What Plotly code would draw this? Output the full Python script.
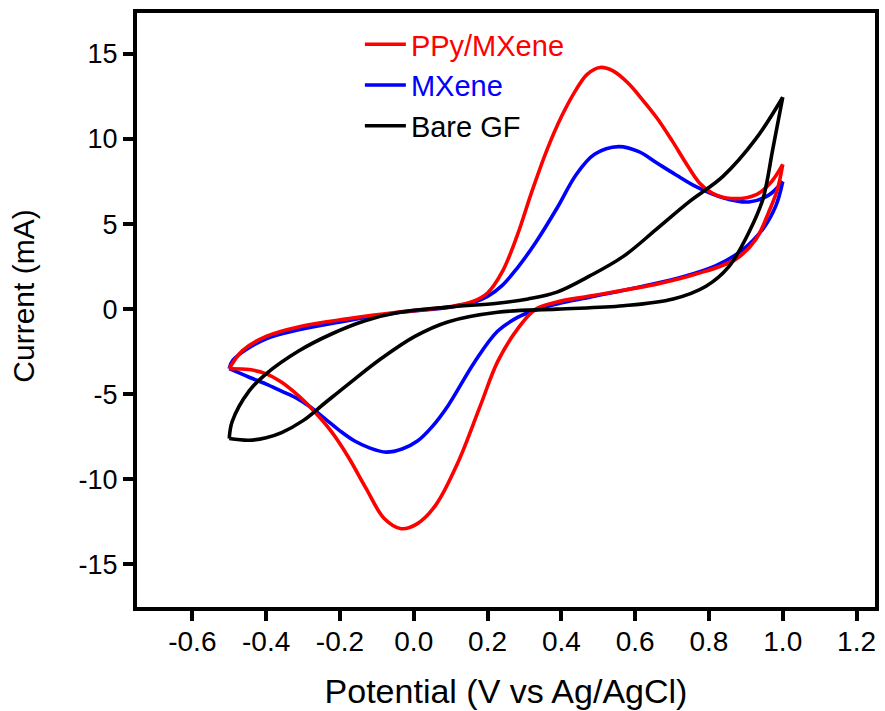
import plotly.graph_objects as go

# ---------------- data ----------------
# PPy/MXene
ppy_fwd_v = [-0.50, -0.465, -0.40, -0.31, -0.18, -0.04, 0.10, 0.16, 0.20, 0.24, 0.28, 0.32, 0.36, 0.40, 0.44,
             0.47, 0.505, 0.54, 0.58, 0.62, 0.66, 0.70, 0.74, 0.775, 0.81, 0.86, 0.93, 0.97, 1.00]
ppy_fwd_i = [-3.5, -2.45, -1.6, -1.03, -0.57, -0.17, 0.15, 0.45, 0.95, 2.2, 4.3, 6.9, 9.3, 11.3, 12.9,
             13.8, 14.2, 14.0, 13.3, 12.3, 11.2, 9.9, 8.5, 7.4, 6.8, 6.5, 6.75, 7.5, 8.5]
ppy_rev_v = [1.00, 0.985, 0.962, 0.927, 0.873, 0.765, 0.658, 0.477, 0.388, 0.33, 0.28, 0.227, 0.18, 0.12,
             0.06, 0.01, -0.034, -0.08, -0.13, -0.177, -0.223, -0.27, -0.312, -0.358, -0.40, -0.446, -0.50]
ppy_rev_i = [8.5, 7.0, 5.7, 4.1, 2.94, 2.06, 1.47, 0.77, 0.42, 0.0, -1.2, -3.1, -5.7, -9.0,
             -11.5, -12.6, -12.9, -12.3, -10.5, -8.7, -7.2, -6.0, -5.1, -4.3, -3.8, -3.55, -3.5]

# MXene
mx_fwd_v = [-0.50, -0.49, -0.40, -0.18, -0.04, 0.10, 0.16, 0.20, 0.24, 0.28, 0.33, 0.39, 0.44, 0.49, 0.555,
            0.61, 0.658, 0.71, 0.765, 0.838, 0.908, 0.962, 1.00]
mx_fwd_i = [-3.5, -3.0, -1.75, -0.68, -0.2, 0.12, 0.4, 0.75, 1.4, 2.4, 3.9, 6.0, 7.9, 9.1, 9.55,
            9.25, 8.6, 7.9, 7.2, 6.55, 6.3, 6.7, 7.5]
mx_rev_v = [1.00, 0.981, 0.946, 0.892, 0.819, 0.730, 0.612, 0.477, 0.388, 0.33, 0.28, 0.227, 0.165, 0.092,
            0.05, 0.01, -0.03, -0.075, -0.12, -0.16, -0.20, -0.24, -0.28, -0.32, -0.36, -0.40, -0.446, -0.50]
mx_rev_i = [7.5, 6.05, 4.7, 3.5, 2.55, 1.9, 1.3, 0.7, 0.3, -0.05, -0.5, -1.3, -3.1, -5.7,
            -6.9, -7.75, -8.2, -8.4, -8.15, -7.75, -7.15, -6.45, -5.75, -5.2, -4.8, -4.4, -4.0, -3.5]

# Bare GF
gf_fwd_v = [-0.50, -0.492, -0.446, -0.40, -0.312, -0.223, -0.132, -0.042, 0.092, 0.227, 0.31, 0.388, 0.477,
            0.568, 0.658, 0.746, 0.838, 0.927, 1.00]
gf_fwd_i = [-7.6, -6.6, -4.8, -3.8, -2.46, -1.46, -0.68, -0.2, 0.12, 0.35, 0.6, 1.0, 1.95,
            3.1, 4.7, 6.3, 7.8, 10.0, 12.45]
gf_rev_v = [1.00, 0.973, 0.946, 0.908, 0.854, 0.792, 0.703, 0.568, 0.388, 0.227, 0.092, 0.003, -0.088,
            -0.177, -0.24, -0.30, -0.358, -0.40, -0.446, -0.50]
gf_rev_i = [12.45, 9.4, 6.45, 4.5, 2.5, 1.35, 0.6, 0.2, 0.0, -0.18, -0.75, -1.6, -2.9,
            -4.4, -5.5, -6.55, -7.25, -7.55, -7.7, -7.6]

series_names = ["PPy/MXene", "MXene", "Bare GF"]
series_colors = ["#FF0000", "#0000FF", "#000000"]

x_ticks = [-0.6, -0.4, -0.2, 0.0, 0.2, 0.4, 0.6, 0.8, 1.0, 1.2]
x_tick_labels = ["-0.6", "-0.4", "-0.2", "0.0", "0.2", "0.4", "0.6", "0.8", "1.0", "1.2"]
y_ticks = [-15, -10, -5, 0, 5, 10, 15]
y_tick_labels = ["-15", "-10", "-5", "0", "5", "10", "15"]

FONT = "Arial, 'Liberation Sans', sans-serif"

fig = go.Figure()

curves = [
    (0, ppy_fwd_v, ppy_fwd_i, ppy_rev_v, ppy_rev_i, 1),
    (1, mx_fwd_v, mx_fwd_i, mx_rev_v, mx_rev_i, 2),
    (2, gf_fwd_v, gf_fwd_i, gf_rev_v, gf_rev_i, 3),
]
# draw blue first, then red, then black
for k in [1, 0, 2]:
    idx, fv, fi, rv, ri, rank = curves[k]
    name = series_names[idx]
    col = series_colors[idx]
    label = f"<span style='color:{col}'>{name}</span>"
    fig.add_trace(go.Scatter(x=fv, y=fi, mode="lines", name=label, legendgroup=name,
                             legendrank=rank, showlegend=True,
                             line=dict(color=col, width=3.6, shape="spline", smoothing=1.0)))
    fig.add_trace(go.Scatter(x=rv, y=ri, mode="lines", name=label, legendgroup=name,
                             showlegend=False,
                             line=dict(color=col, width=3.6, shape="spline", smoothing=1.0)))

fig.update_layout(
    width=885, height=711,
    margin=dict(l=137, r=6, t=13, b=102),
    paper_bgcolor="white", plot_bgcolor="white",
    font=dict(family=FONT, color="black"),
    showlegend=True,
    legend=dict(x=0.302, y=0.99, xanchor="left", yanchor="top",
                bgcolor="rgba(0,0,0,0)", borderwidth=0,
                font=dict(family=FONT, size=29, color="black"),
                tracegroupgap=0, itemwidth=41),
    annotations=[dict(text="Current (mA)", textangle=-90, xref="paper", yref="paper",
                      x=-0.155, y=0.5235, xanchor="center", yanchor="middle", showarrow=False,
                      font=dict(family=FONT, size=30, color="black"))],
)

fig.update_xaxes(
    range=[-0.75, 1.25], showgrid=False, zeroline=False,
    showline=True, linewidth=4, linecolor="black", mirror=True,
    ticks="outside", ticklen=10, tickwidth=3.5, tickcolor="black",
    tickvals=x_ticks, ticktext=x_tick_labels, ticklabelstandoff=-4,
    tickfont=dict(family=FONT, size=28, color="black"),
    title=dict(text="Potential (V vs Ag/AgCl)", font=dict(family=FONT, size=34, color="black"), standoff=25),
)
fig.update_yaxes(
    range=[-17.5, 17.4], showgrid=False, zeroline=False,
    showline=True, linewidth=4, linecolor="black", mirror=True,
    ticks="outside", ticklen=10, tickwidth=3.5, tickcolor="black",
    tickvals=y_ticks, ticktext=y_tick_labels,
    tickfont=dict(family=FONT, size=27, color="black"),
)

fig.write_html("out.html")
